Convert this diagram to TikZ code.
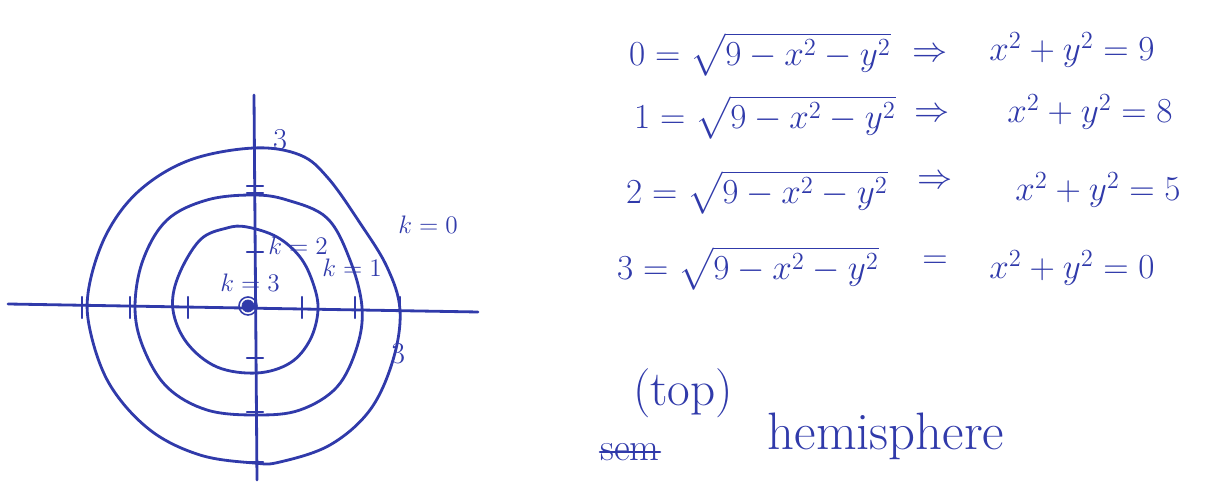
\RequirePackage{fix-cm}
\documentclass[tikz,border=0pt]{standalone}
\usepackage{amsmath}
\usepackage{amssymb}
\usepackage{xcolor}
\usepackage{tikz}

\definecolor{penblue}{RGB}{48,58,170}

\begin{document}
\begin{tikzpicture}[x=0.02cm, y=-0.02cm,
        ink/.style={draw=penblue, line width=1.6pt, line cap=round, line join=round},
        hand/.style={text=penblue, inner sep=0pt},
        eqn/.style={hand, font=\fontsize{20}{23}\selectfont},
        tick/.style={ink, line width=1.3pt}]
        \useasboundingbox (0, 0) rectangle (1225, 482);

        \coordinate (xl) at (8, 304);
        \coordinate (xr) at (478, 312);
        \coordinate (yt) at (254, 95);
        \coordinate (yb) at (257, 480);
        \coordinate (o) at (248, 306);

        \draw[ink] (xl) -- (xr);
        \draw[ink] (yt) -- (yb);

        \draw[ink] plot[smooth cycle, tension=0.6] coordinates {(254, 148) (300, 155) (328, 178) (360, 223) (387, 267)
            (400, 310) (393, 360) (370, 410) (330, 445) (280, 462) (254, 463) (200, 455) (150, 430)
            (110, 385) (90, 330) (89, 287) (107, 233) (140, 190) (190, 160)};
        \draw[ink] plot[smooth cycle, tension=0.6] coordinates {(253, 195) (287, 200) (327, 218) (350, 260)
            (362, 307) (357, 347) (337, 387) (300, 410) (257, 415) (207, 410) (167, 387) (143, 347)
            (135, 307) (143, 260) (167, 220) (207, 200)};
        \draw[ink] plot[smooth cycle, tension=0.6] coordinates {(247, 227) (277, 237) (300, 257) (313, 283)
            (318, 310) (310, 340) (290, 363) (257, 373) (217, 367) (187, 343) (173, 310) (178, 277)
            (200, 240) (227, 228)};

        \foreach \tx in {82, 130, 188, 302, 355, 400}
            \draw[tick] (\tx, 297) -- (\tx, 318);
        \foreach \ty in {186, 193, 252, 358, 412, 462}
            \draw[tick] (247, \ty) -- (263, \ty);

        \filldraw[draw=penblue, fill=penblue] (o) circle (6);
        \draw[draw=penblue, line width=0.9pt] (o) circle (9);

        \node[hand, font=\LARGE] (tickT) at (280, 140) {$3$};
        \node[hand, font=\LARGE] (tickR) at (398, 354) {$3$};
        \node[hand, font=\Large] (kzero) at (428, 225) {$k=0$};
        \node[hand, font=\Large] (kone) at (352, 268) {$k=1$};
        \node[hand, font=\Large] (ktwo) at (298, 246) {$k=2$};
        \node[hand, font=\Large] (kthree) at (250, 283) {$k=3$};

        \node[eqn] (lhsA) at (760, 54) {$0=\sqrt{9-x^2-y^2}$};
        \node[eqn] (arrA) at (930, 55) {$\Rightarrow$};
        \node[eqn] (rhsA) at (1072, 50) {$x^2+y^2=9$};

        \node[eqn] (lhsB) at (765, 117) {$1=\sqrt{9-x^2-y^2}$};
        \node[eqn] (arrB) at (932, 115) {$\Rightarrow$};
        \node[eqn] (rhsB) at (1090, 112) {$x^2+y^2=8$};

        \node[eqn] (lhsC) at (757, 192) {$2=\sqrt{9-x^2-y^2}$};
        \node[eqn] (arrC) at (935, 182) {$\Rightarrow$};
        \node[eqn] (rhsC) at (1098, 190) {$x^2+y^2=5$};

        \node[eqn] (lhsD) at (748, 268) {$3=\sqrt{9-x^2-y^2}$};
        \node[eqn] (eqD) at (935, 262) {$=$};
        \node[eqn] (rhsD) at (1072, 268) {$x^2+y^2=0$};

        \node[hand, font=\fontsize{28}{32}\selectfont] (top) at (683, 393) {(top)};
        \node[hand, font=\fontsize{30}{34}\selectfont] (hemi) at (886, 436) {hemisphere};
        \node[hand, font=\fontsize{22}{26}\selectfont] (struck) at (630, 452) {sem};
        \draw[ink, line width=1.4pt] (struck.west) -- (struck.east);
    \end{tikzpicture}
\end{document}
